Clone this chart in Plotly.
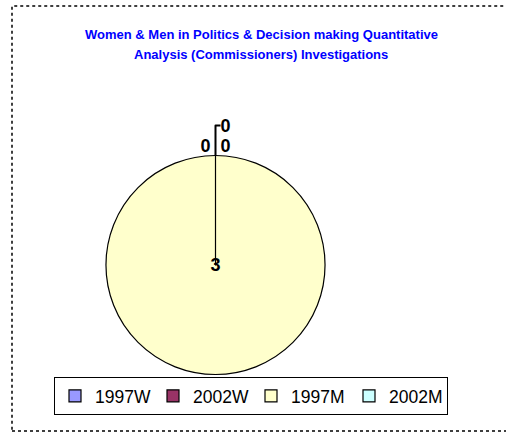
import plotly.graph_objects as go

labels = ["1997W", "2002W", "1997M", "2002M"]
values = [0, 0, 3, 0]
colors = ["#9999FF", "#993366", "#FFFFCC", "#CCFFFF"]
title_lines = ["Women & Men in Politics & Decision making Quantitative",
               "Analysis (Commissioners) Investigations"]

W, H = 506, 439
TFONT = "Liberation Sans, Arial, sans-serif"

fig = go.Figure(go.Pie(
    labels=labels,
    values=values,
    marker=dict(colors=colors, line=dict(color="#000000", width=1.2)),
    sort=False,
    direction="clockwise",
    rotation=0,
    textinfo="value",
    textposition=["outside", "outside", "inside", "outside"],
    insidetextorientation="horizontal",
    textfont=dict(family="Liberation Sans, Arial, sans-serif", size=18, color="#000000", weight="bold"),
    domain=dict(x=[106 / W, 325 / W], y=[(H - 375) / H, (H - 155) / H]),
    showlegend=True,
))

annotations = []
for i, line in enumerate(title_lines):
    annotations.append(dict(
        text="<b>" + line + "</b>", xref="paper", yref="paper",
        x=261 / W, y=1 - (34 + 21 * i) / H, xanchor="center", yanchor="middle",
        showarrow=False,
        font=dict(family=TFONT, size=13, color="#0000FF"),
    ))

fig.update_layout(
    width=W, height=H,
    margin=dict(l=0, r=0, t=0, b=0),
    paper_bgcolor="#FFFFFF",
    plot_bgcolor="#FFFFFF",
    annotations=annotations,
    legend=dict(
        orientation="h",
        x=251 / W, xanchor="center",
        y=(H - 377) / H, yanchor="top",
        bordercolor="#000000", borderwidth=1,
        bgcolor="#FFFFFF",
        font=dict(family="Liberation Sans, Arial, sans-serif", size=17.5, color="#000000"),
        itemwidth=30,
        entrywidth=53,
        tracegroupgap=0,
    ),
    shapes=[dict(
        type="rect", xref="paper", yref="paper",
        x0=12 / W, x1=1.02, y0=(H - 431) / H, y1=(H - 6) / H,
        line=dict(color="#000000", width=1.5, dash="dot"),
    )],
)

fig.write_html("out.html", config={"displayModeBar": False},
               post_script="document.body.style.margin='0';document.body.style.overflow='hidden';")
